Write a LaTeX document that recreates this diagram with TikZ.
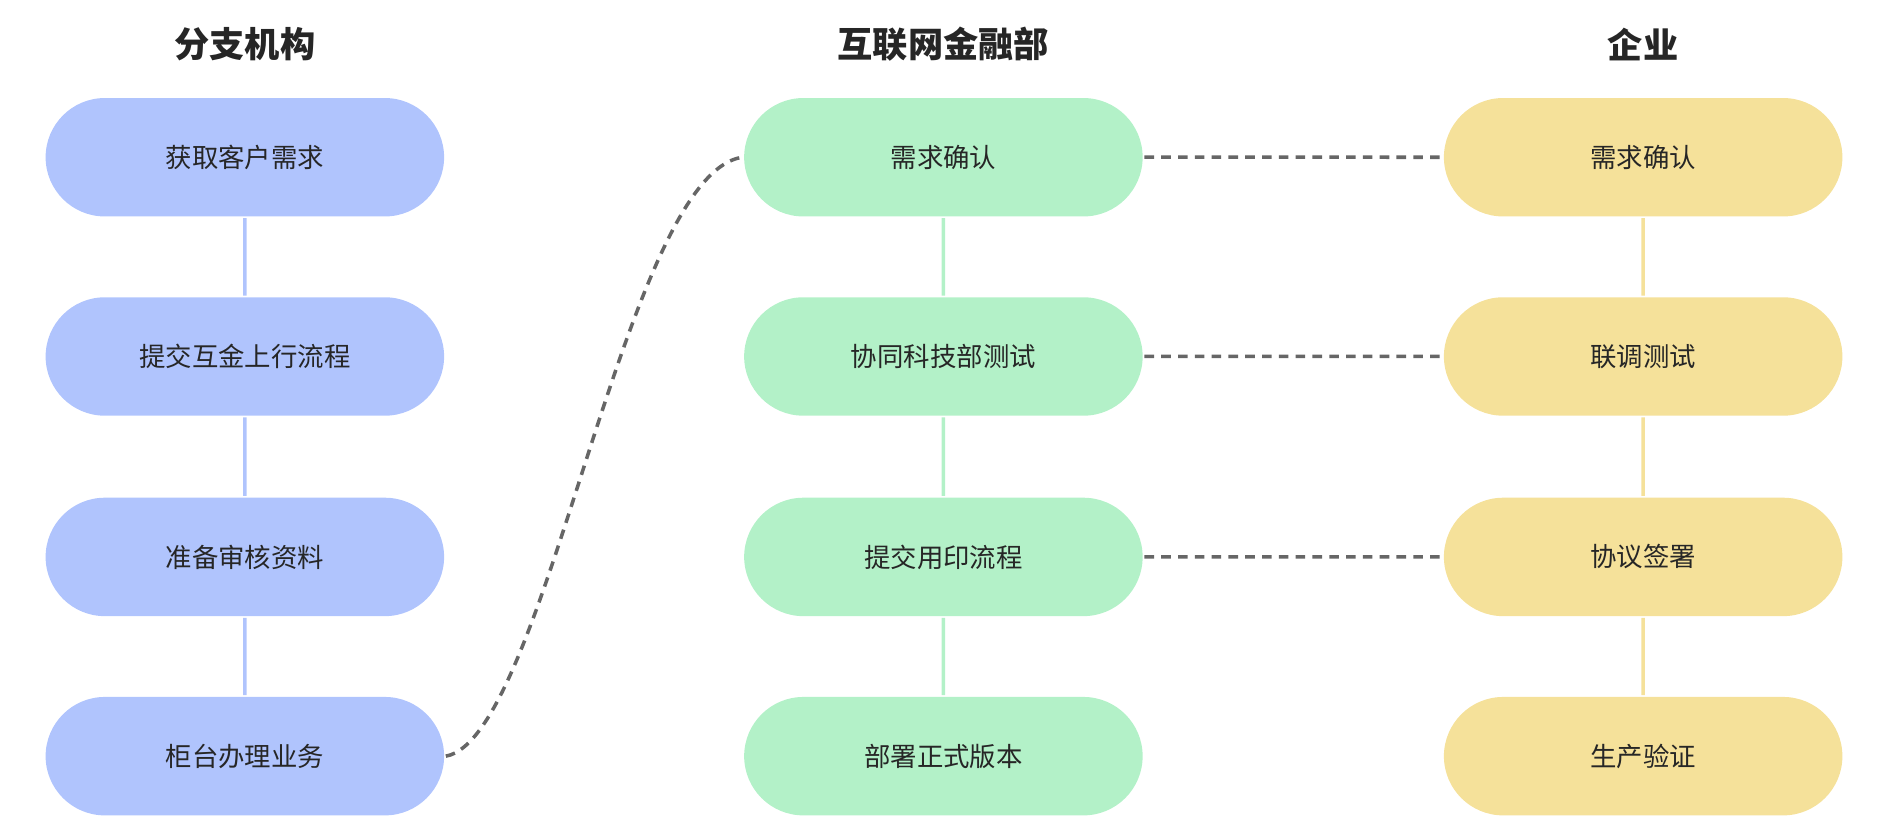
\documentclass[tikz,border=0pt]{standalone}
\usepackage{fontspec}
\usetikzlibrary{shapes.misc}
\setmainfont{Noto Sans CJK SC}
\definecolor{branchc}{HTML}{B0C4FD}
\definecolor{netc}{HTML}{B3F1C8}
\definecolor{firmc}{HTML}{F5E19A}
\definecolor{linkc}{HTML}{666666}
\begin{document}
\begin{tikzpicture}[x=0.75pt,y=-0.75pt,line width=2.2pt]
	\fontsize{16.5pt}{20pt}\selectfont
	\tikzstyle{head}=[font=\fontsize{22pt}{26pt}\selectfont\bfseries, text=black!85]
	\tikzstyle{pill}=[rounded rectangle,minimum width=249pt,minimum height=74pt,inner sep=0pt,text=black!85]
	\tikzstyle{b-node}=[pill,fill=branchc]
	\tikzstyle{n-node}=[pill,fill=netc]
	\tikzstyle{f-node}=[pill,fill=firmc]
	\tikzstyle{link}=[draw=linkc,dash pattern=on 6pt off 4.5pt]

	\def \colb{204}
	\def \coln{786}
	\def \colf{1369}

	\useasboundingbox (0,0) rectangle (1568,697);

	\node[head] (hb) at (\colb,37) {分支机构};
	\node[head] (hn) at (\coln,37) {互联网金融部};
	\node[head] (hf) at (\colf,37) {企业};

	\node[b-node] 	(b1)	at (\colb,131)	{获取客户需求};
	\node[b-node] 	(b2)	at (\colb,297)	{提交互金上行流程};
	\node[b-node] 	(b3)	at (\colb,464)	{准备审核资料};
	\node[b-node] 	(b4)	at (\colb,630)	{柜台办理业务};

	\node[n-node] 	(n1)	at (\coln,131)	{需求确认};
	\node[n-node] 	(n2)	at (\coln,297)	{协同科技部测试};
	\node[n-node] 	(n3)	at (\coln,464)	{提交用印流程};
	\node[n-node] 	(n4)	at (\coln,630)	{部署正式版本};

	\node[f-node] 	(f1)	at (\colf,131)	{需求确认};
	\node[f-node] 	(f2)	at (\colf,297)	{联调测试};
	\node[f-node] 	(f3)	at (\colf,464)	{协议签署};
	\node[f-node] 	(f4)	at (\colf,630)	{生产验证};

	\draw[branchc] (b1) -- (b2) (b2) -- (b3) (b3) -- (b4);
	\draw[netc] (n1) -- (n2) (n2) -- (n3) (n3) -- (n4);
	\draw[firmc] (f1) -- (f2) (f2) -- (f3) (f3) -- (f4);

	\draw[link] (b4.east) .. controls (455,615) and (520,145) .. (n1.west);
	\draw[link] (n1) -- (f1);
	\draw[link] (n2) -- (f2);
	\draw[link] (n3) -- (f3);
\end{tikzpicture}
\end{document}
